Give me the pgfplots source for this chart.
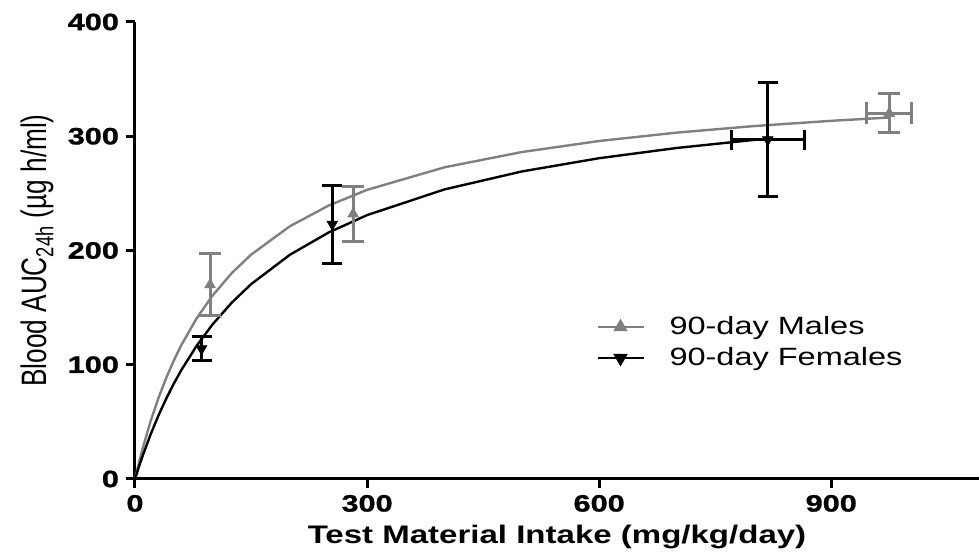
\documentclass[border=0pt]{standalone}
\usepackage{fontspec}
\setmainfont{Liberation Sans}[FakeStretch=1.3]
\newfontfamily\plainfont{Liberation Sans}
\newfontfamily\tickfont{Liberation Sans Bold}[FakeStretch=1.3, FakeBold=1.2]
\usepackage{graphicx}
\usepackage{pgfplots}
\pgfplotsset{compat=1.18}
\definecolor{mgray}{RGB}{128,128,128}
\begin{document}
\begin{tikzpicture}
\begin{axis}[name=ax, scale only axis, width=422pt, height=228.5pt,
  xmin=0, xmax=1091, ymin=0, ymax=400,
  axis lines=left, axis line style={-, line width=1.5pt},
  xtick={0,300,600,900}, ytick={0,100,200,300,400},
  tick align=outside, major tick length=4.5pt,
  tick style={black, line width=1.5pt},
  /pgf/number format/assume math mode=true,
  ticklabel style={font=\tickfont\fontsize{11.8}{14}\selectfont},
  xlabel={Test Material Intake (mg/kg/day)},
  xlabel style={font=\fontsize{12.7}{15}\selectfont\bfseries},
  ylabel={\scalebox{1}[1.35]{\plainfont\fontsize{13.1}{15}\selectfont Blood AUC\textsubscript{24h} (µg h/ml)}},
  legend style={draw=none, fill=none, at={(rel axis cs:0.539,0.374)}, anchor=north west,
    font=\fontsize{12.5}{16.5}\selectfont, row sep=1pt},
  legend cell align=left,
  legend image code/.code={\draw[mark repeat=2,mark phase=2] plot coordinates {(0pt,0pt) (11.5pt,0pt) (23pt,0pt)}; \path[draw=none] (0pt,0pt) -- (34pt,0pt);},
  clip=false,
]
% fitted curves
\addplot[mgray, line width=1.2pt, no marks, forget plot] coordinates {
(0,0) (5,14.02) (10,26.97) (20,50.14) (30,70.26) (40,87.90) (50,103.49) (60,117.36)
(80,140.99) (100,160.36) (125,180.16) (150,196.32) (200,221.12) (250,239.25) (300,253.08)
(400,272.80) (500,286.17) (600,295.84) (700,303.16) (800,308.89) (900,313.50) (975,316.41)};
\addplot[black, line width=1.2pt, no marks, forget plot] coordinates {
(0,0) (5,10.53) (10,20.46) (20,38.70) (30,55.08) (40,69.85) (50,83.26) (60,95.47)
(80,116.90) (100,135.09) (125,154.31) (150,170.48) (200,196.16) (250,215.66) (300,230.97)
(400,253.45) (500,269.17) (600,280.78) (700,289.71) (800,296.79) (818,297.9)};
% males
\addplot[mgray, only marks, mark=triangle*, mark size=3pt, forget plot,
  error bars/.cd, y dir=both, y explicit,
  error bar style={line width=1.5pt, mgray}, error mark options={rotate=90, mark size=5.5pt, line width=1.5pt, mgray}]
  coordinates {(97,170) +- (0,27) (282,232) +- (0,24)};
\addplot[mgray, only marks, mark=triangle*, mark size=3pt, forget plot,
  error bars/.cd, y dir=both, y explicit, x dir=both, x explicit,
  error bar style={line width=1.5pt, mgray}, error mark options={rotate=90, mark size=5.5pt, line width=1.5pt, mgray}]
  coordinates {(975,320) +- (29,17)};
% females
\addplot[black, only marks, mark=triangle*, mark options={rotate=180}, mark size=3pt, forget plot,
  error bars/.cd, y dir=both, y explicit,
  error bar style={line width=1.5pt, black}, error mark options={rotate=90, mark size=5pt, line width=1.5pt, black}]
  coordinates {(86,114) +- (0,10.5) (255,223) +- (0,34)};
\addplot[black, only marks, mark=triangle*, mark options={rotate=180}, mark size=3pt, forget plot,
  error bars/.cd, y dir=both, y explicit, x dir=both, x explicit,
  error bar style={line width=1.5pt, black}, error mark options={rotate=90, mark size=5pt, line width=1.5pt, black}]
  coordinates {(818,297) +- (47,50)};
\addlegendimage{mgray, line width=1.2pt, mark=triangle*, mark size=3pt}
\addlegendentry{90-day Males}
\addlegendimage{black, line width=1.2pt, mark=triangle*, mark size=3pt, mark options={rotate=180}}
\addlegendentry{90-day Females}
\end{axis}
\pgfresetboundingbox
\path ([shift={(-67.5pt,-38pt)}]ax.south west) rectangle ([shift={(0pt,11pt)}]ax.north east);
\end{tikzpicture}
\end{document}
